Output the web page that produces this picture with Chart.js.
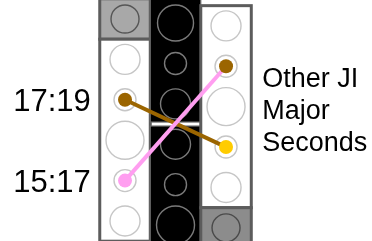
<!DOCTYPE html>
<html>
<head>
<meta charset="utf-8">
<script src="https://cdn.jsdelivr.net/npm/chart.js@4"></script>
<style>
html, body { margin: 0; background: #fff; }
canvas { display: block; }
</style>
</head>
<body>
<canvas id="chart" width="372" height="241" style="width:372px;height:241px"></canvas>
<script>
// 三列音高图：左列、中间黑列、右列
const rowSteps = [0, 1, 2, 3, 4, 5];
const columnShift = [0, 0.1, 0.17];
const leftSizes = [14, 15, 11, 19, 11, 15];
const middleSizes = [18, 11, 15, 15, 11, 19];
const rightSizes = [15, 11, 19, 11, 15, 14];
const leftCells = ['gray', 'white', 'white', 'white', 'white', 'white'];
const middleCells = ['black', 'black', 'black', 'black', 'black', 'black'];
const rightCells = ['white', 'white', 'white', 'white', 'white', 'dark'];
const cellGroups = [[[0, 0], [1, 5]], [[0, 2], [3, 5]], [[0, 4], [5, 5]]];
const leftNotes = [null, null, 'brown', null, 'pink', null];
const rightNotes = [null, 'brown', null, 'yellow', null, null];
const intervalLabels = ['17:19', '15:17'];
const intervalFrom = [2, 4];
const intervalTo = [3, 1];
const intervalColors = ['brown', 'pink'];
const sideLabel = ['Other JI', 'Major', 'Seconds'];

const fills = { white: '#ffffff', gray: '#a8a8a8', dark: '#8c8c8c', black: '#000000' };
const rings = { white: '#c6c6c6', gray: '#555555', dark: '#4a4a4a', black: '#7a7a7a' };
const noteColors = { brown: '#9b6500', yellow: '#ffcc00', pink: '#ff9ef0' };

const columnSizes = [leftSizes, middleSizes, rightSizes];
const columnCells = [leftCells, middleCells, rightCells];
const columnNotes = [leftNotes, rowSteps.map(() => null), rightNotes];

// 圆圈
const circlePoints = [], circleRadius = [], circleFill = [], circleStroke = [];
const dotPoints = [], dotColors = [];
columnCells.forEach((cells, c) => {
    rowSteps.forEach((r) => {
        circlePoints.push({ x: c, y: r + columnShift[c] });
        circleRadius.push(columnSizes[c][r]);
        circleFill.push(cells[r] === 'black' ? 'rgba(0,0,0,0)' : fills[cells[r]]);
        circleStroke.push(rings[cells[r]]);
        const note = columnNotes[c][r];
        if (note) {
            dotPoints.push({ x: c, y: r + columnShift[c] });
            dotColors.push(noteColors[note]);
        }
    });
});

const lineSets = intervalLabels.map((label, i) => ({
    type: 'line',
    label: label,
    data: [
        { x: 0, y: intervalFrom[i] + columnShift[0] },
        { x: 2, y: intervalTo[i] + columnShift[2] }
    ],
    borderColor: noteColors[intervalColors[i]],
    borderWidth: 4,
    pointRadius: 0,
    fill: false,
    order: 2 - i * 0.5
}));

const cellBoxes = {
    id: 'cellBoxes',
    beforeDatasetsDraw(chart) {
        const { ctx, chartArea, scales: { x, y } } = chart;
        ctx.save();
        cellGroups.forEach((groups, c) => {
            groups.forEach(([r0, r1]) => {
                const kind = columnCells[c][r0];
                const left = x.getPixelForValue(c - 0.5);
                const right = x.getPixelForValue(c + 0.5);
                let top = y.getPixelForValue(r0 - 0.5 + columnShift[c]);
                let bottom = y.getPixelForValue(r1 + 0.5 + columnShift[c]);
                if (kind === 'black') {
                    if (r0 > 0) top += 2; else top = chartArea.top - 3;
                    if (r1 < rowSteps.length - 1) bottom -= 2;
                }
                ctx.fillStyle = fills[kind];
                ctx.fillRect(left, top, right - left, bottom - top);
                ctx.strokeStyle = kind === 'black' ? '#6a6a6a' : '#5c5c5c';
                ctx.lineWidth = kind === 'black' ? 1.2 : 3;
                ctx.strokeRect(left, top, right - left, bottom - top);
            });
        });
        ctx.restore();
    },
    afterDraw(chart) {
        const { ctx, chartArea, scales: { x, y } } = chart;
        ctx.save();
        ctx.fillStyle = '#000';
        ctx.font = '31px "Liberation Sans", Arial, sans-serif';
        ctx.textAlign = 'right';
        ctx.textBaseline = 'alphabetic';
        const labelRight = x.getPixelForValue(-0.5) - 9;
        intervalLabels.forEach((label, i) => {
            ctx.fillText(label, labelRight, y.getPixelForValue(intervalFrom[i]) + 11.5);
        });
        ctx.font = '27px "Liberation Sans", Arial, sans-serif';
        ctx.textAlign = 'left';
        const sideLeft = x.getPixelForValue(2.5) + 11;
        const mid = (chartArea.top + chartArea.bottom) / 2;
        sideLabel.forEach((line, i) => {
            ctx.fillText(line, sideLeft, mid + (i - 1) * 32 - 1.5);
        });
        ctx.restore();
    }
};

new Chart(document.getElementById('chart'), {
    type: 'scatter',
    data: {
        datasets: [
            {
                label: 'notes',
                data: dotPoints,
                pointRadius: 7,
                pointBackgroundColor: dotColors,
                pointBorderWidth: 0,
                order: 0
            },
            ...lineSets,
            {
                label: 'circles',
                data: circlePoints,
                pointRadius: circleRadius,
                pointBackgroundColor: circleFill,
                pointBorderColor: circleStroke,
                pointBorderWidth: 1.4,
                order: 3
            }
        ]
    },
    options: {
        responsive: false,
        animation: false,
        events: [],
        layout: { padding: 0, autoPadding: false },
        plugins: { legend: { display: false }, tooltip: { enabled: false } },
        scales: {
            x: { type: 'linear', display: false, min: -2.475, max: 4.89 },
            y: { type: 'linear', display: false, reverse: true, min: -0.47, max: 5.495 }
        }
    },
    plugins: [cellBoxes]
});
</script>
</body>
</html>
